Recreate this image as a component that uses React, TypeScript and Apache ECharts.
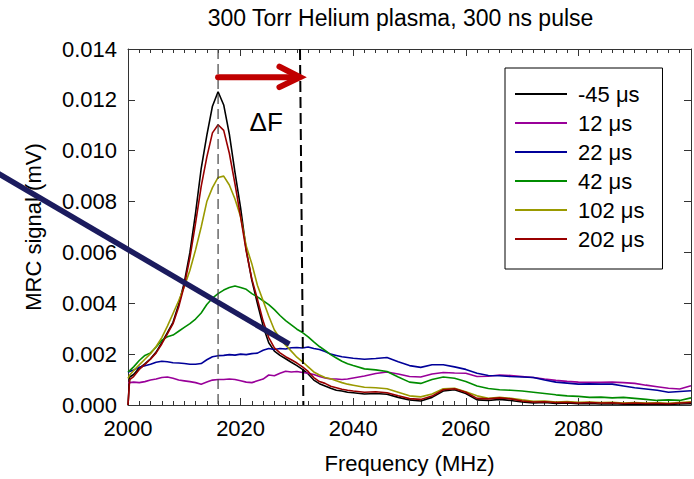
import React, { useEffect, useRef } from 'react';
import * as echarts from 'echarts';

const FREQ = [
  2000, 2000.3, 2001, 2002, 2003, 2004, 2005, 2006, 2007, 2008, 2009, 2010,
  2011, 2012, 2013, 2014, 2015, 2016, 2017, 2018, 2019, 2020,
  2021, 2022, 2023, 2024, 2025, 2026, 2027, 2028, 2029, 2030,
  2031, 2032, 2033, 2034, 2035, 2036, 2037, 2038, 2039, 2040,
  2042, 2044, 2046, 2048, 2050, 2052, 2054, 2056, 2058, 2060,
  2062, 2064, 2066, 2068, 2070, 2072, 2074, 2076, 2078, 2080,
  2082, 2084, 2086, 2088, 2090, 2092, 2094, 2096, 2098, 2100,
];

const S_M45 = [
  0, 0.0011, 0.0012, 0.00145, 0.00162, 0.00182, 0.00208, 0.00245, 0.00285, 0.00325, 0.00395, 0.00482,
  0.006, 0.00755, 0.0093, 0.0106, 0.01175, 0.01232, 0.0118, 0.01065, 0.00915, 0.00775,
  0.0061, 0.0049, 0.00398, 0.0031, 0.00245, 0.00212, 0.00195, 0.00182, 0.00168, 0.00155,
  0.0014, 0.00122, 0.00098, 0.00084, 0.00075, 0.00066, 0.00058, 0.00055, 0.0005, 0.00048,
  0.00043, 0.00045, 0.00042, 0.0003, 0.0002, 0.00016, 0.0003, 0.00055, 0.0006, 0.00045,
  0.0002, 0.00018, 0.00022, 0.00018, 0.00012, 0.00008, 0.0001, 0.00006, 0.00008, 0.00005,
  0.00006, 0.00004, 0.00005, 0.00003, 0.00004, 0.00003, 0.00003, 0.00002, 0.00004, 0.00005,
];

const S_12 = [
  0.00088, 0.00088, 0.0009, 0.00088, 0.00092, 0.00098, 0.00102, 0.00108, 0.0011, 0.00105, 0.00098, 0.00095,
  0.00092, 0.00088, 0.00082, 0.0009, 0.00098, 0.001, 0.001, 0.00102, 0.001, 0.00095,
  0.0009, 0.00088, 0.00095, 0.00102, 0.00118, 0.00115, 0.00125, 0.00133, 0.0013, 0.00132,
  0.00128, 0.00125, 0.0012, 0.00112, 0.00106, 0.00102, 0.00102, 0.001, 0.00102, 0.00106,
  0.00114, 0.00124, 0.0013, 0.00122, 0.00112, 0.0011, 0.00122, 0.00128, 0.00126, 0.00125,
  0.00112, 0.00113, 0.00118, 0.00116, 0.00112, 0.00108, 0.00102, 0.00097, 0.00093, 0.0009,
  0.00089, 0.00089, 0.0009, 0.00088, 0.00085, 0.00078, 0.00072, 0.00066, 0.00063, 0.00076,
];

const S_22 = [
  0.00128, 0.00132, 0.00138, 0.00148, 0.00154, 0.0016, 0.00168, 0.00172, 0.0017, 0.00166, 0.00165, 0.00163,
  0.0016, 0.0016, 0.00163, 0.00178, 0.0019, 0.00194, 0.00195, 0.00198, 0.00196, 0.002,
  0.00198, 0.00202, 0.00204, 0.00215, 0.00222, 0.00218, 0.00222, 0.0022, 0.00225, 0.00226,
  0.00224, 0.00228, 0.00222, 0.00218, 0.0021, 0.002, 0.00195, 0.0019, 0.00187, 0.00184,
  0.0018, 0.00183, 0.00187, 0.0017, 0.00155, 0.00148, 0.00158, 0.00158, 0.0015, 0.0014,
  0.00125, 0.00116, 0.00115, 0.00112, 0.0011, 0.00108, 0.00098, 0.0009, 0.00086, 0.00082,
  0.00083, 0.00082, 0.00082, 0.00075, 0.00068, 0.00063, 0.00058, 0.0005, 0.00053, 0.00056,
];

const S_42 = [
  0.0013, 0.00135, 0.0015, 0.00175, 0.00195, 0.00205, 0.00228, 0.00255, 0.00268, 0.00275, 0.0029, 0.00305,
  0.0032, 0.00338, 0.00362, 0.00395, 0.0042, 0.00438, 0.00452, 0.00462, 0.00468, 0.00462,
  0.00455, 0.00438, 0.00425, 0.0041, 0.00395, 0.00375, 0.00352, 0.00332, 0.00315, 0.00298,
  0.00285, 0.00268, 0.00248, 0.0023, 0.00215, 0.00198, 0.00185, 0.00172, 0.00162, 0.00155,
  0.00142, 0.00138, 0.00132, 0.0011, 0.0009, 0.00085, 0.001, 0.0011, 0.00105, 0.00092,
  0.00075, 0.00065, 0.0006, 0.00058, 0.00055, 0.0005, 0.00045, 0.0004, 0.00036, 0.00034,
  0.0003, 0.00031, 0.00028, 0.0003, 0.00026, 0.00022, 0.00018, 0.0002, 0.00018, 0.00028,
];

const S_102 = [
  0.00105, 0.00118, 0.00135, 0.00158, 0.0018, 0.00202, 0.0023, 0.00265, 0.0031, 0.0036, 0.0041, 0.00465,
  0.0053, 0.0061, 0.007, 0.008, 0.00855, 0.00895, 0.009, 0.00865, 0.0081, 0.0074,
  0.00625, 0.00555, 0.0047, 0.0041, 0.0035, 0.00295, 0.00262, 0.00235, 0.00212, 0.00188,
  0.0017, 0.0015, 0.0013, 0.00118, 0.00108, 0.00103, 0.00095, 0.00088, 0.00082, 0.00078,
  0.0007, 0.00068, 0.00064, 0.0005, 0.00036, 0.00032, 0.00043, 0.00064, 0.00066, 0.00052,
  0.00036, 0.00026, 0.0003, 0.00026, 0.0002, 0.00015, 0.00016, 0.00012, 0.00014, 0.00011,
  0.00012, 0.0001, 0.00011, 0.00008, 0.0001, 0.00008, 0.00009, 0.00007, 0.0001, 0.00013,
];

const S_202 = [
  0, 0.001, 0.00112, 0.0014, 0.0016, 0.0018, 0.00205, 0.0024, 0.0028, 0.0032, 0.00385, 0.0047,
  0.0058, 0.00715, 0.0086, 0.00975, 0.0107, 0.01102, 0.0108, 0.0099, 0.0087, 0.0074,
  0.00605, 0.00495, 0.00415, 0.0033, 0.00265, 0.00225, 0.00205, 0.0019, 0.00178, 0.00165,
  0.0015, 0.00132, 0.00108, 0.00092, 0.00085, 0.00074, 0.00068, 0.00062, 0.00058, 0.00055,
  0.0005, 0.00052, 0.00048, 0.00036, 0.00025, 0.00022, 0.00035, 0.0006, 0.00064, 0.0005,
  0.00026, 0.00024, 0.00028, 0.00024, 0.00016, 0.00012, 0.00013, 0.0001, 0.00011, 0.00008,
  0.0001, 0.00008, 0.00009, 0.00006, 0.00008, 0.00006, 0.00007, 0.00005, 0.00008, 0.0001,
];

const SERIES_NAMES = ['-45 μs', '12 μs', '22 μs', '42 μs', '102 μs', '202 μs'];
const SERIES_COLORS = ['#000000', '#990099', '#000099', '#008c00', '#9a9a00', '#990000'];

const TITLE = '300 Torr Helium plasma, 300 ns pulse';
const X_NAME = 'Frequency (MHz)';
const Y_NAME = 'MRC signal (mV)';

// annotation positions in data coordinates [MHz, mV]
const PEAK_LINE = [[2016.0, 0.014], [2016.0, 0]];
const SHIFT_LINE = [[2030.55, 0.014], [2031.15, 0]];
const ARROW_SHAFT = [[2016.0, 0.01289], [2030.2, 0.01289]];
const ARROW_HEAD = [[2026.9, 0.01331], [2030.57, 0.01289], [2026.9, 0.0125]];
const DELTA_POS = [2021.6, 0.01112];
const NAVY_LINE = [[1976, 0.00923], [2028.67, 0.00239]];

const FONT = "'Liberation Sans', Arial, sans-serif";

export default function App() {
  const ref = useRef<HTMLDivElement>(null);
  useEffect(() => {
    const chart = echarts.init(ref.current!, null, { renderer: 'svg' });
    const values = [S_M45, S_12, S_22, S_42, S_102, S_202];
    const series = values.map((vals, i) => ({
      name: SERIES_NAMES[i],
      type: 'line',
      data: FREQ.map((f, j) => [f, vals[j]]),
      symbol: 'none',
      showSymbol: false,
      lineStyle: { width: 1.6, color: SERIES_COLORS[i] },
      itemStyle: { color: SERIES_COLORS[i] },
      xAxisIndex: 0,
      yAxisIndex: 0,
      z: 2 + i,
    }));
    const axisColor = '#333';
    const xBase = {
      type: 'value',
      min: 2000,
      max: 2100,
      interval: 20,
      gridIndex: 0,
      axisLine: { show: true, onZero: false, lineStyle: { color: axisColor, width: 1 } },
      axisTick: { show: true, inside: true, length: 7, lineStyle: { color: axisColor } },
      minorTick: { show: true, splitNumber: 10, length: 4, lineStyle: { color: axisColor } },
      splitLine: { show: false },
    };
    const yBase = {
      type: 'value',
      min: 0,
      max: 0.014,
      interval: 0.002,
      gridIndex: 0,
      axisLine: { show: true, onZero: false, lineStyle: { color: axisColor, width: 1 } },
      axisTick: { show: true, inside: true, length: 7, lineStyle: { color: axisColor } },
      splitLine: { show: false },
    };
    chart.setOption({
      animation: false,
      backgroundColor: '#ffffff',
      grid: { left: 128, top: 49, right: 3, bottom: 73, containLabel: false },
      xAxis: [
        {
          ...xBase,
          position: 'bottom',
          name: X_NAME,
          nameLocation: 'middle',
          nameGap: 47,
          nameTextStyle: { fontSize: 22, fontFamily: FONT, color: '#000' },
          axisLabel: {
            fontSize: 22,
            fontFamily: FONT,
            color: '#000',
            margin: 12,
            showMaxLabel: false,
            formatter: (v: number) => String(v),
          },
        },
        { ...xBase, position: 'top', axisLabel: { show: false } },
      ],
      yAxis: [
        {
          ...yBase,
          position: 'left',
          name: Y_NAME,
          nameLocation: 'middle',
          nameGap: 84,
          nameTextStyle: { fontSize: 22, fontFamily: FONT, color: '#000' },
          axisLabel: {
            fontSize: 22,
            fontFamily: FONT,
            color: '#000',
            margin: 11,
            formatter: (v: number) => v.toFixed(3),
          },
        },
        { ...yBase, position: 'right', axisLabel: { show: false } },
      ],
      legend: {
        data: SERIES_NAMES,
        orient: 'vertical',
        left: 505,
        top: 68,
        padding: [15, 18, 19, 10],
        icon: 'rect',
        itemWidth: 52,
        itemHeight: 2,
        itemGap: 7,
        borderColor: '#000',
        borderWidth: 1,
        borderRadius: 0,
        backgroundColor: '#ffffff',
        textStyle: { fontSize: 22, fontFamily: FONT, color: '#000', padding: [0, 0, 0, 6] },
      },
      series,
    });

    const px = (p: number[]) => chart.convertToPixel({ seriesIndex: 0 }, p) as number[];
    const seg = (a: number[][]) => {
      const p1 = px(a[0]);
      const p2 = px(a[1]);
      return { x1: p1[0], y1: p1[1], x2: p2[0], y2: p2[1] };
    };
    const d = px(DELTA_POS);
    chart.setOption({
      graphic: [
        {
          type: 'text',
          x: 400.5,
          y: 18,
          z: 100,
          style: {
            text: TITLE,
            font: `23px ${FONT}`,
            fill: '#000',
            textAlign: 'center',
            textVerticalAlign: 'middle',
          },
        },
        {
          type: 'line',
          z: 90,
          shape: seg(PEAK_LINE),
          style: { stroke: '#444', lineWidth: 1.2, lineDash: [10, 5] },
        },
        {
          type: 'line',
          z: 90,
          shape: seg(SHIFT_LINE),
          style: { stroke: '#000', lineWidth: 2, lineDash: [11, 5] },
        },
        {
          type: 'line',
          z: 95,
          shape: seg(ARROW_SHAFT),
          style: { stroke: '#c00000', lineWidth: 6, lineCap: 'round' },
        },
        {
          type: 'polyline',
          z: 95,
          shape: { points: ARROW_HEAD.map(px) },
          style: { stroke: '#c00000', lineWidth: 6, lineCap: 'round', lineJoin: 'miter', fill: 'none' },
        },
        {
          type: 'text',
          x: d[0],
          y: d[1],
          z: 95,
          style: {
            text: 'ΔF',
            font: `26px ${FONT}`,
            fill: '#000',
            textAlign: 'left',
            textVerticalAlign: 'middle',
          },
        },
        {
          type: 'line',
          z: 100,
          shape: seg(NAVY_LINE),
          style: { stroke: '#1b1b5e', lineWidth: 5.5 },
        },
      ],
    });
    return () => chart.dispose();
  }, []);
  return (
    <div
      ref={ref}
      style={{ position: 'absolute', left: 0, top: 0, width: 694, height: 479 }}
    />
  );
}
